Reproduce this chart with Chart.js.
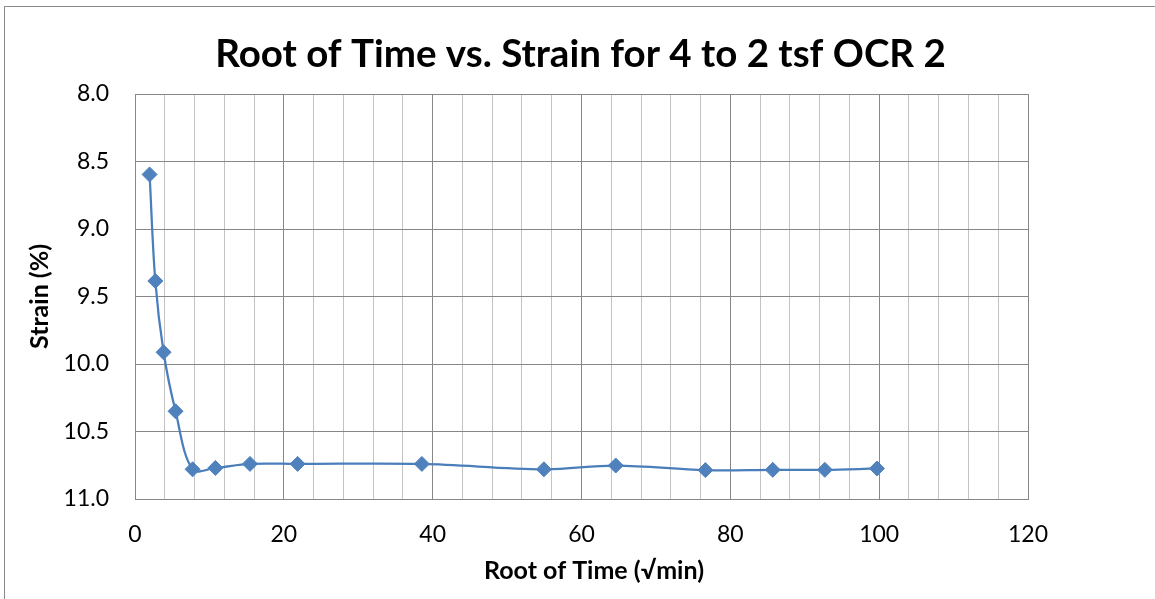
<!DOCTYPE html>
<html><head><meta charset="utf-8">
<script src="https://cdn.jsdelivr.net/npm/chart.js@4"></script>
<style>html,body{margin:0;padding:0;background:#fff}#wrap{width:1155px;height:599px;position:relative}</style>
</head><body><div id="wrap"><canvas id="c" width="1155" height="599"></canvas></div>
<script>
// ---- data ----
const chartTitle = 'Root of Time vs. Strain for 4 to 2 tsf OCR 2';
const xTitle = 'Root of Time (\u221Amin)';
const yTitle = 'Strain (%)';
const rootTime = [1.96, 2.73, 3.84, 5.45, 7.74, 10.8, 15.45, 21.85, 38.55, 54.95, 64.6, 76.65, 85.7, 92.7, 99.7];
const strain   = [8.596, 9.385, 9.913, 10.35, 10.78, 10.77, 10.74, 10.74, 10.74, 10.78, 10.752, 10.786, 10.784, 10.784, 10.774];
const xTickLabels = [0, 20, 40, 60, 80, 100, 120];
const yTickLabels = ['8.0', '8.5', '9.0', '9.5', '10.0', '10.5', '11.0'];

const points = rootTime.map((x, i) => ({x: x, y: strain[i]}));
const FONT = 'Lato, Carlito, Calibri, sans-serif';
const MAJOR = '#878787', MINOR = '#c3c3c3';

const decorations = {
  id: 'decorations',
  afterDraw(chart) {
    const ctx = chart.ctx;
    ctx.save();
    ctx.strokeStyle = '#8a8a8a';
    ctx.lineWidth = 1;
    ctx.strokeRect(4.5, 6.5, 1400, 800);
    ctx.fillStyle = '#000';
    ctx.textAlign = 'center';
    ctx.textBaseline = 'alphabetic';
    ctx.font = 'bold 38.5px ' + FONT;
    ctx.fillText(chartTitle, 580.5, 67);
    ctx.font = 'bold 25px ' + FONT;
    ctx.fillText(xTitle, 594, 578.5);
    ctx.restore();
  }
};

new Chart(document.getElementById('c'), {
  type: 'line',
  data: {
    datasets: [{
      data: points,
      borderColor: '#4a7ebb',
      backgroundColor: '#4f81bd',
      borderWidth: 2.25,
      pointStyle: 'rectRot',
      pointRadius: 7.5,
      pointHoverRadius: 7.5,
      pointBackgroundColor: '#4f81bd',
      pointBorderColor: '#4f81bd',
      pointBorderWidth: 1,
      tension: 0.35,
      fill: false
    }]
  },
  options: {
    responsive: false,
    animation: false,
    devicePixelRatio: 1,
    layout: { padding: { top: 94, left: 0, right: 127, bottom: 0 } },
    plugins: {
      legend: { display: false },
      tooltip: { enabled: false },
      title: { display: false }
    },
    scales: {
      x: {
        type: 'linear',
        min: 0, max: 120,
        afterFit(s) { s.height = 100; },
        afterBuildTicks(s) {
          const t = [];
          for (let v = 0; v <= 120; v += 4) t.push({ value: v });
          s.ticks = t;
        },
        ticks: {
          autoSkip: false,
          maxRotation: 0,
          padding: 22,
          color: '#000',
          font: { family: FONT, size: 23 },
          callback: (v) => xTickLabels.includes(v) ? String(v) : ''
        },
        grid: {
          drawTicks: false,
          color: (c) => (c.tick && xTickLabels.includes(c.tick.value)) ? MAJOR : MINOR,
          lineWidth: 1
        },
        border: { display: true, color: MAJOR, width: 1 },
        title: { display: false }
      },
      y: {
        type: 'linear',
        min: 8, max: 11, reverse: true,
        afterFit(s) { s.width = 135; },
        afterBuildTicks(s) {
          s.ticks = yTickLabels.map(l => ({ value: parseFloat(l) }));
        },
        ticks: {
          padding: 26,
          color: '#000',
          font: { family: FONT, size: 23 },
          callback: (v) => yTickLabels.find(l => parseFloat(l) === v) || ''
        },
        grid: { drawTicks: false, color: MAJOR, lineWidth: 1 },
        border: { display: true, color: MAJOR, width: 1 },
        title: {
          display: true, text: yTitle, color: '#000',
          font: { family: FONT, size: 25, weight: 'bold', lineHeight: 1.2 },
          padding: { top: 25, bottom: 4 }
        }
      }
    }
  },
  plugins: [decorations]
});
</script>
</body></html>
